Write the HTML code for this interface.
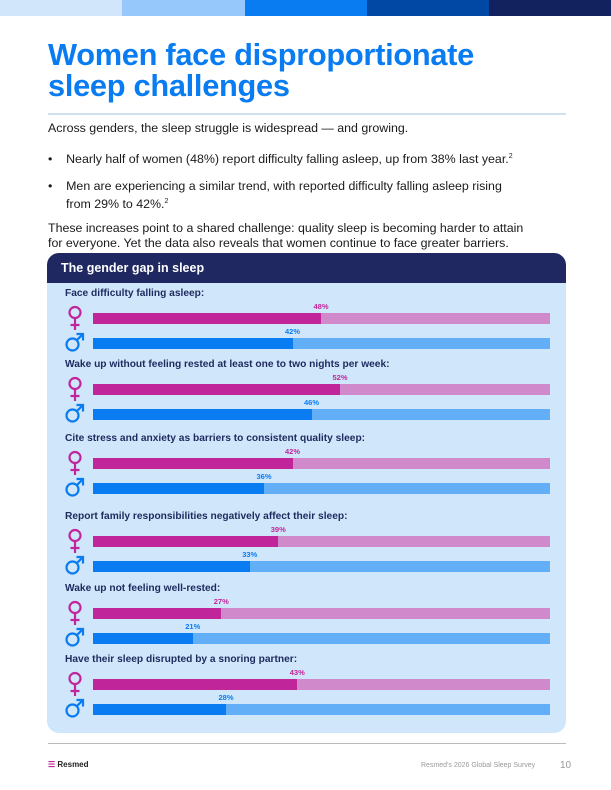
<!DOCTYPE html>
<html><head><meta charset="utf-8"><style>
body{margin:0;width:611px;height:790px;position:relative;background:#fff;font-family:"Liberation Sans",sans-serif;overflow:hidden}
.a{position:absolute}
.seg{position:absolute;top:0;height:16px}
.t{color:#0a7cf2;font-weight:bold;font-size:30.8px;left:48px;line-height:31px;letter-spacing:-0.3px}
.p{font-size:12.4px;color:#1a1a1a;left:48px;line-height:15px}
.cat{font-size:10.2px;font-weight:bold;color:#1e2a5e;left:65px}
.lab{font-size:7.5px;font-weight:bold}
</style></head><body>
<div class="seg" style="left:0;width:122px;background:#d2e6fb"></div>
<div class="seg" style="left:122px;width:123px;background:#97c8fb"></div>
<div class="seg" style="left:245px;width:122px;background:#0a7cf2"></div>
<div class="seg" style="left:367px;width:122px;background:#0148a5"></div>
<div class="seg" style="left:489px;width:122px;background:#12225e"></div>
<div class="a t" style="top:39px">Women face disproportionate<br>sleep challenges</div>
<div class="a" style="left:48px;top:113px;width:518px;height:2px;background:#cfe0ee"></div>
<div class="a p" style="top:121px">Across genders, the sleep struggle is widespread — and growing.</div>
<div class="a p" style="top:149px">•&nbsp;&nbsp;&nbsp;&nbsp;Nearly half of women (48%) report difficulty falling asleep, up from 38% last year.<sup style="font-size:7px">2</sup></div>
<div class="a p" style="top:179px">•&nbsp;&nbsp;&nbsp;&nbsp;Men are experiencing a similar trend, with reported difficulty falling asleep rising<br><span style="padding-left:18px">from 29% to 42%.<sup style="font-size:7px">2</sup></span></div>
<div class="a p" style="top:221px">These increases point to a shared challenge: quality sleep is becoming harder to attain<br>for everyone. Yet the data also reveals that women continue to face greater barriers.</div>
<div class="a" style="left:47px;top:253px;width:519px;height:480px;background:#d0e6fb;border-radius:12px;overflow:hidden">
<div style="height:30px;background:#1f2860;color:#fff;font-weight:bold;font-size:12.5px;line-height:30px;padding-left:14px">The gender gap in sleep</div>
</div>
<div id="chart"></div>
<div class="a" style="left:48px;top:743px;width:518px;height:1px;background:#bbb"></div>
<div class="a" style="left:48px;top:760px;font-size:8px;font-weight:bold;color:#222"><span style="color:#c0269a">☰</span> Resmed</div>
<div class="a" style="left:421px;top:762px;font-size:7px;color:#999">Resmed's 2026 Global Sleep Survey</div>
<div class="a" style="left:560px;top:760px;font-size:10px;color:#999">10</div>
<script>
const categories=["Face difficulty falling asleep:","Wake up without feeling rested at least one to two nights per week:","Cite stress and anxiety as barriers to consistent quality sleep:","Report family responsibilities negatively affect their sleep:","Wake up not feeling well-rested:","Have their sleep disrupted by a snoring partner:"];
const women=[48,52,42,39,27,43];
const men=[42,46,36,33,21,28];
const rowTops=[288,359,433,511,583,654];
const X0=93,W=457,PX=4.75;
function xs(v){return Math.min(W,v*PX);}
const root=document.getElementById('chart');
function mk(cls,style,text){const d=document.createElement('div');d.className='a '+cls;d.setAttribute('style',style);if(text!==undefined)d.textContent=text;root.appendChild(d);return d;}
const femaleSvg='<svg width="22" height="26" viewBox="0 0 22 26"><circle cx="10" cy="7.5" r="5.5" fill="none" stroke="#c0269a" stroke-width="2.2"/><path d="M10 13V25M5.5 20H14.5" stroke="#c0269a" stroke-width="2.2" fill="none"/></svg>';
const maleSvg='<svg width="22" height="22" viewBox="0 0 22 22"><circle cx="8.5" cy="13.5" r="6" fill="none" stroke="#0a7cf2" stroke-width="2.2"/><path d="M12.8 9.2L19 3M12.5 3H19V9.5" stroke="#0a7cf2" stroke-width="2.2" fill="none"/></svg>';
categories.forEach((c,i)=>{
 const t=rowTops[i];
 const ct=mk('cat','top:'+t+'px',c);
 
 
 [[women[i],t+25,'#c0269a','#d08acb','female'],[men[i],t+50,'#0a7cf2','#62aef7','male']].forEach(s=>{
  const [v,y,c1,c2,n]=s;
  const ic=mk('',n==='female'?'left:65px;top:'+(y-8)+'px':'left:64px;top:'+(y-7)+'px');
  ic.innerHTML=n==='female'?femaleSvg:maleSvg;
  
  
  const bg=mk('','left:'+X0+'px;top:'+y+'px;width:'+W+'px;height:11px;background:'+c2);
  
  
  const b=mk('','left:'+X0+'px;top:'+y+'px;width:'+xs(v)+'px;height:11px;background:'+c1);
  
  
  const l=mk('lab','left:'+(X0+xs(v)-20)+'px;width:40px;text-align:center;top:'+(y-11)+'px;color:'+c1,v+'%');
  
  
 });
});
</script>
</body></html>
